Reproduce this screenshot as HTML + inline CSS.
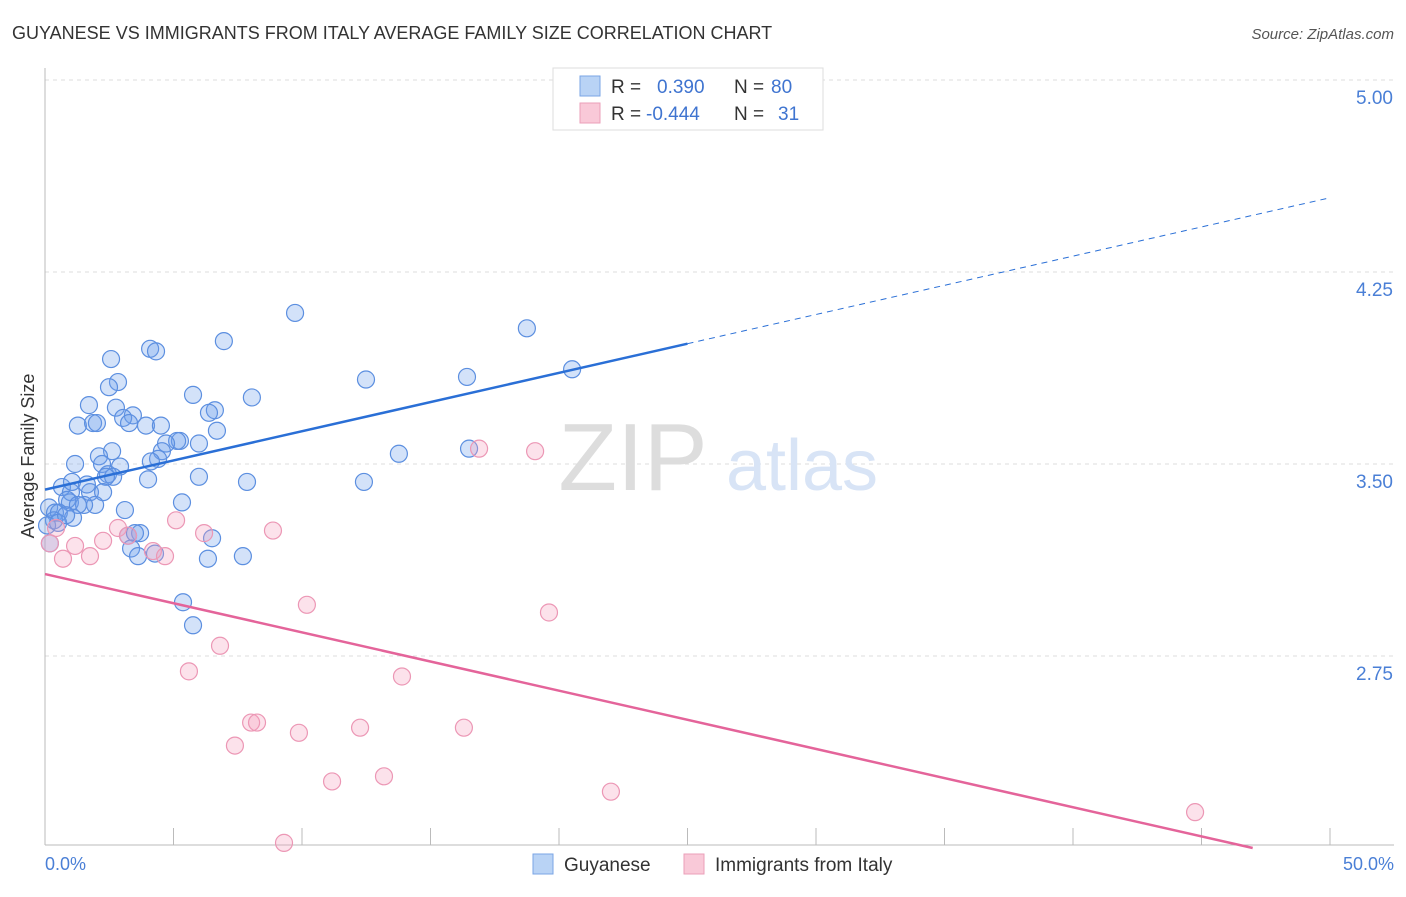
<!DOCTYPE html>
<html><head><meta charset="utf-8"><style>
body{margin:0;background:#fff;font-family:"Liberation Sans",sans-serif}
svg text{font-family:"Liberation Sans",sans-serif}
</style></head><body>
<svg width="1406" height="892" viewBox="0 0 1406 892">
<text x="12" y="39" font-size="18" fill="#333">GUYANESE VS IMMIGRANTS FROM ITALY AVERAGE FAMILY SIZE CORRELATION CHART</text>
<text x="1394" y="39" font-size="15" fill="#555" font-style="italic" text-anchor="end">Source: ZipAtlas.com</text>
<g id="grid"></g>
<g id="wm">
<text x="633" y="490" font-size="96" fill="#ddd" text-anchor="middle" font-family="Liberation Serif">ZIP</text>
<text x="802" y="490" font-size="72" fill="#d8e4f6" text-anchor="middle">atlas</text>
</g>
<line x1="45" y1="68" x2="45" y2="845" stroke="#bbb"/>
<line x1="45" y1="845" x2="1394" y2="845" stroke="#bbb"/>
<g id="ticks"></g>
<g id="ylab"></g>
<text x="45" y="870" font-size="18" fill="#4a7fd6">0.0%</text>
<text x="1394" y="870" font-size="18" fill="#4a7fd6" text-anchor="end">50.0%</text>
<text transform="translate(34,456) rotate(-90)" font-size="18" fill="#333" text-anchor="middle">Average Family Size</text>
<g id="pts"></g>
<g id="trends"></g>
<g>
<rect x="553" y="68" width="270" height="62" fill="#fff" stroke="#ddd"/>
<rect x="580" y="76" width="20" height="20" fill="#b9d3f5" stroke="#7aa5e5"/>
<rect x="580" y="103" width="20" height="20" fill="#f9c9d8" stroke="#eb9fb9"/>
<text y="93" font-size="19" fill="#333"><tspan x="611">R =</tspan><tspan x="657" fill="#3f74d0">0.390</tspan><tspan x="734">N =</tspan><tspan x="771" fill="#3f74d0">80</tspan></text>
<text y="120" font-size="19" fill="#333"><tspan x="611">R =</tspan><tspan x="646" fill="#3f74d0">-0.444</tspan><tspan x="734">N =</tspan><tspan x="778" fill="#3f74d0">31</tspan></text>
</g>
<g>
<rect x="533" y="854" width="20" height="20" fill="#b9d3f5" stroke="#7aa5e5"/>
<text x="564" y="871" font-size="19" fill="#333">Guyanese</text>
<rect x="684" y="854" width="20" height="20" fill="#f9c9d8" stroke="#eb9fb9"/>
<text x="715" y="871" font-size="19" fill="#333">Immigrants from Italy</text>
</g>
</svg>
<script>
const yTicks=[5.00,4.25,3.50,2.75];
const yTickLabels=["5.00","4.25","3.50","2.75"];
const xTickVals=[0,5,10,15,20,25,30,35,40,45,50];
const guyX=[9.73,18.75,6.96,4.09,4.32,2.57,20.51,12.49,16.42,2.84,2.49,5.76,8.05,1.71,2.76,6.61,6.38,3.42,3.04,3.27,1.28,1.87,2.02,3.93,4.51,6.69,5.25,5.14,4.71,5.99,2.61,4.55,2.10,16.50,13.77,4.40,4.12,1.17,2.22,2.92,2.45,5.99,4.01,7.86,12.41,2.65,2.37,0.66,1.01,1.75,2.26,1.63,1.05,0.97,0.86,1.95,5.33,1.52,1.28,0.16,0.39,0.54,1.09,3.11,0.35,0.08,3.70,6.50,3.23,3.50,3.35,4.28,3.62,7.70,6.34,0.19,5.37,5.76,0.51,0.82];
const guyY=[4.09,4.03,3.98,3.95,3.94,3.91,3.87,3.83,3.84,3.82,3.80,3.77,3.76,3.73,3.72,3.71,3.70,3.69,3.68,3.66,3.65,3.66,3.66,3.65,3.65,3.63,3.59,3.59,3.58,3.58,3.55,3.55,3.53,3.56,3.54,3.52,3.51,3.50,3.50,3.49,3.46,3.45,3.44,3.43,3.43,3.45,3.45,3.41,3.39,3.39,3.39,3.42,3.43,3.35,3.36,3.34,3.35,3.34,3.34,3.33,3.31,3.31,3.29,3.32,3.28,3.26,3.23,3.21,3.22,3.23,3.17,3.15,3.14,3.14,3.13,3.19,2.96,2.87,3.27,3.30];
const itaX=[0.19,0.43,0.70,1.17,1.75,2.26,2.84,3.23,4.20,4.67,5.10,6.19,8.87,16.89,19.07,10.19,19.61,6.81,5.60,13.89,8.02,8.25,12.26,16.30,9.88,7.39,13.19,11.17,22.02,44.75,9.30];
const itaY=[3.19,3.25,3.13,3.18,3.14,3.20,3.25,3.22,3.16,3.14,3.28,3.23,3.24,3.56,3.55,2.95,2.92,2.79,2.69,2.67,2.49,2.49,2.47,2.47,2.45,2.40,2.28,2.26,2.22,2.14,2.02];
const guyTrend=[3.40,0.02280]; // intercept, slope per %
const itaTrend=[3.07,-0.02277];
const NS="http://www.w3.org/2000/svg";
const sx=v=>45+v*25.7, sy=v=>80+(5-v)*256;
function mk(tag,attrs,parent){const e=document.createElementNS(NS,tag);for(const k in attrs)e.setAttribute(k,attrs[k]);document.getElementById(parent).appendChild(e);return e;}
yTicks.forEach((t,i)=>{
 const l=mk('line',{x1:45,x2:1394,y1:sy(t),y2:sy(t),stroke:'#ddd','stroke-dasharray':'4,4'},'grid');
 
 
 const tx=mk('text',{x:1393,y:sy(t)+24,'font-size':19,fill:'#4a7fd6','text-anchor':'end'},'ylab');
 tx.textContent=yTickLabels[i];
 
 
});
xTickVals.forEach(v=>{
 const l=mk('line',{x1:sx(v),x2:sx(v),y1:828,y2:845,stroke:'#bbb'},'ticks');
 
 
});
guyX.forEach((x,i)=>{
 const c=mk('circle',{cx:sx(x),cy:sy(guyY[i]),r:8.5,fill:'rgba(110,160,235,0.3)',stroke:'#5c8fe0','stroke-width':1.2},'pts');
 
 
});
itaX.forEach((x,i)=>{
 const c=mk('circle',{cx:sx(x),cy:sy(itaY[i]),r:8.5,fill:'rgba(245,160,190,0.3)',stroke:'#ec97b5','stroke-width':1.2},'pts');
 
 
});
const gy=x=>guyTrend[0]+guyTrend[1]*x, iy=x=>itaTrend[0]+itaTrend[1]*x;
let l1=mk('line',{x1:sx(0),y1:sy(gy(0)),x2:sx(25),y2:sy(gy(25)),stroke:'#2a6fd6','stroke-width':2.5},'trends');


let l2=mk('line',{x1:sx(25),y1:sy(gy(25)),x2:sx(50),y2:sy(gy(50)),stroke:'#2a6fd6','stroke-width':1,'stroke-dasharray':'6,5'},'trends');


const xEnd=(2.0-itaTrend[0])/itaTrend[1];
let l3=mk('line',{x1:sx(0),y1:sy(iy(0)),x2:sx(xEnd),y2:sy(iy(xEnd)),stroke:'#e4649a','stroke-width':2.5},'trends');


</script>
</body></html>
